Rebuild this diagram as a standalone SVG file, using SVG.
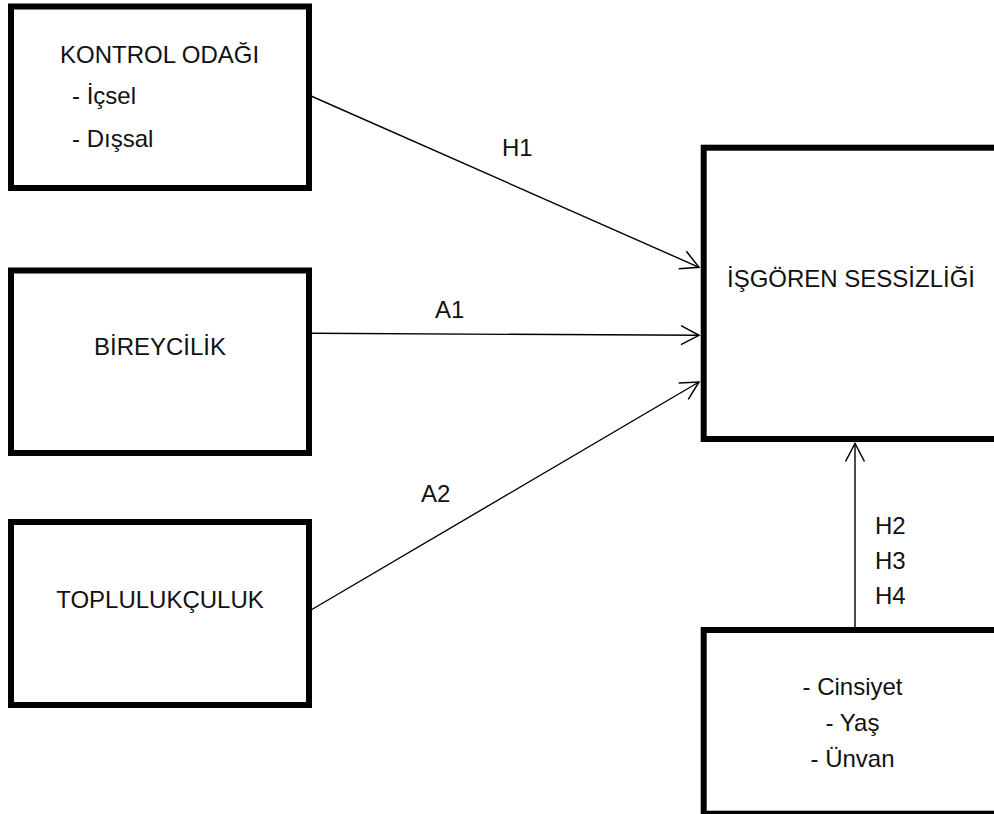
<svg xmlns="http://www.w3.org/2000/svg" width="994" height="814" viewBox="0 0 994 814">
<style>
.box{fill:#fff;stroke:#000;stroke-width:6}
.t{font-family:"Liberation Sans",Arial,sans-serif;font-size:24px;fill:#111}
.c{text-anchor:middle}
.con{stroke:#000;stroke-width:1.4;fill:none;marker-end:url(#ah)}
</style>
<defs>
<marker id="ah" markerUnits="userSpaceOnUse" viewBox="-20 -11 22 22" refX="0" refY="0" markerWidth="22" markerHeight="22" orient="auto">
<path d="M-18,-9.5 L0,0 L-18,9.5" fill="none" stroke="#000" stroke-width="1.5"/>
</marker>
</defs>
<rect width="994" height="814" fill="#fff"/>
<g id="kontrol">
<rect class="box" x="11" y="6.5" width="298" height="181.5"/>
<text class="t" x="60" y="63">KONTROL ODAĞI</text>
<text class="t" x="72" y="104">- İçsel</text>
<text class="t" x="72" y="147">- Dışsal</text>
</g>
<g id="bireycilik">
<rect class="box" x="11" y="270.5" width="298" height="182.5"/>
<text class="t c" x="160" y="355">BİREYCİLİK</text>
</g>
<g id="toplulukculuk">
<rect class="box" x="11" y="522" width="298" height="183"/>
<text class="t c" x="160" y="608">TOPLULUKÇULUK</text>
</g>
<g id="sessizlik">
<rect class="box" x="703.7" y="147.7" width="300" height="291.3"/>
<text class="t c" x="851" y="287">İŞGÖREN SESSİZLİĞİ</text>
</g>
<g id="demografik">
<rect class="box" x="703.7" y="630" width="300" height="183.7"/>
<text class="t c" x="852.5" y="695">- Cinsiyet</text>
<text class="t c" x="852.5" y="731">- Yaş</text>
<text class="t c" x="852.5" y="767">- Ünvan</text>
</g>
<g id="connectors">
<line class="con" x1="311" y1="96" x2="699" y2="267.3"/>
<line class="con" x1="311" y1="333.3" x2="699" y2="335.3"/>
<line class="con" x1="311" y1="610" x2="699" y2="382"/>
<line class="con" x1="855" y1="630" x2="855" y2="443.5"/>
<text class="t" x="502" y="156">H1</text>
<text class="t" x="435" y="318">A1</text>
<text class="t" x="421" y="502">A2</text>
<text class="t" x="875" y="534">H2</text>
<text class="t" x="875" y="569">H3</text>
<text class="t" x="875" y="604">H4</text>
</g>
</svg>
